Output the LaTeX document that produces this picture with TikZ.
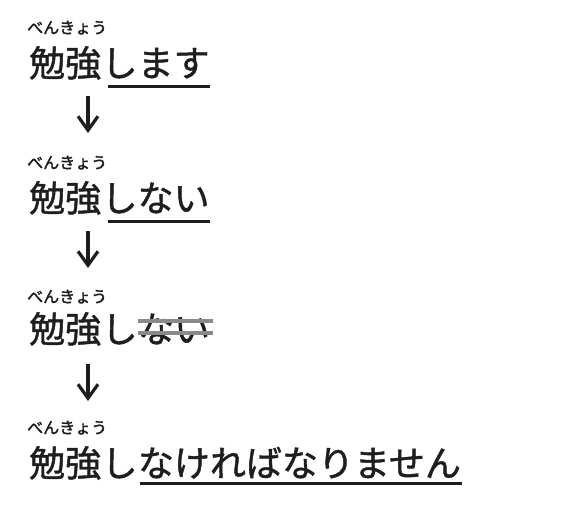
\documentclass[tikz,border=0pt]{standalone}
\usepackage{fontspec}
\newfontfamily\jp{Noto Sans CJK JP}[FakeBold=1.2]
\newfontfamily\jpruby{Noto Sans CJK JP}[FakeBold=2]
\usetikzlibrary{arrows.meta,calc}
\definecolor{ink}{HTML}{1E1E1E}
\definecolor{strikegrey}{HTML}{8A8A8A}
\begin{document}
\begin{tikzpicture}[x=1pt,y=-1pt,
  main/.style={font=\jp\fontsize{36}{36}\selectfont, text=ink, inner sep=0pt, anchor=base west},
  ruby/.style={font=\jpruby\fontsize{16}{16}\selectfont, text=ink, inner sep=0pt, anchor=base west},
  uline/.style={draw=ink, line width=3pt},
  strikeline/.style={draw=strikegrey, line width=4.5pt},
  downarrow/.style={draw=ink, line width=3.2pt, -{Straight Barb[length=14pt,width=20pt]}}]
\useasboundingbox[fill=white] (0,0) rectangle (568,517);
% row 1
\node[ruby] (r1) at (27,33.5) {べんきょう};
\node[main] (k1) at (29,76.5) {勉強};
\node[main] (t1) at (k1.base east) {します};
\draw[uline] ($(t1.base west)+(7,9.5)$) -- ($(t1.base east)+(0,9.5)$);
% row 2
\node[ruby] (r2) at (27,168.5) {べんきょう};
\node[main] (k2) at (29,211.5) {勉強};
\node[main] (t2) at (k2.base east) {しない};
\draw[uline] ($(t2.base west)+(7,9.5)$) -- ($(t2.base east)+(0,9.5)$);
% row 3
\node[ruby] (r3) at (27,302.5) {べんきょう};
\node[main] (k3) at (29,342.5) {勉強};
\node[main] (s3) at (k3.base east) {し};
\node[main] (t3) at (s3.base east) {ない};
\draw[strikeline] ($(t3.base west)+(0,-21.5)$) -- ($(t3.base east)+(3,-21.5)$);
\draw[strikeline] ($(t3.base west)+(0,-9.5)$) -- ($(t3.base east)+(3,-9.5)$);
% row 4
\node[ruby] (r4) at (27,433.5) {べんきょう};
\node[main] (k4) at (29,476.5) {勉強};
\node[main] (s4) at (k4.base east) {し};
\node[main] (t4) at (s4.base east) {なければなりません};
\draw[uline] ($(t4.base west)+(2,6.5)$) -- ($(t4.base east)+(1,6.5)$);
% arrows
\coordinate (a1s) at (88,96);  \coordinate (a1e) at (88,133);
\coordinate (a2s) at (88,231); \coordinate (a2e) at (88,268);
\coordinate (a3s) at (88,364); \coordinate (a3e) at (88,401);
\draw[downarrow] (a1s) -- (a1e);
\draw[downarrow] (a2s) -- (a2e);
\draw[downarrow] (a3s) -- (a3e);
\end{tikzpicture}
\end{document}
